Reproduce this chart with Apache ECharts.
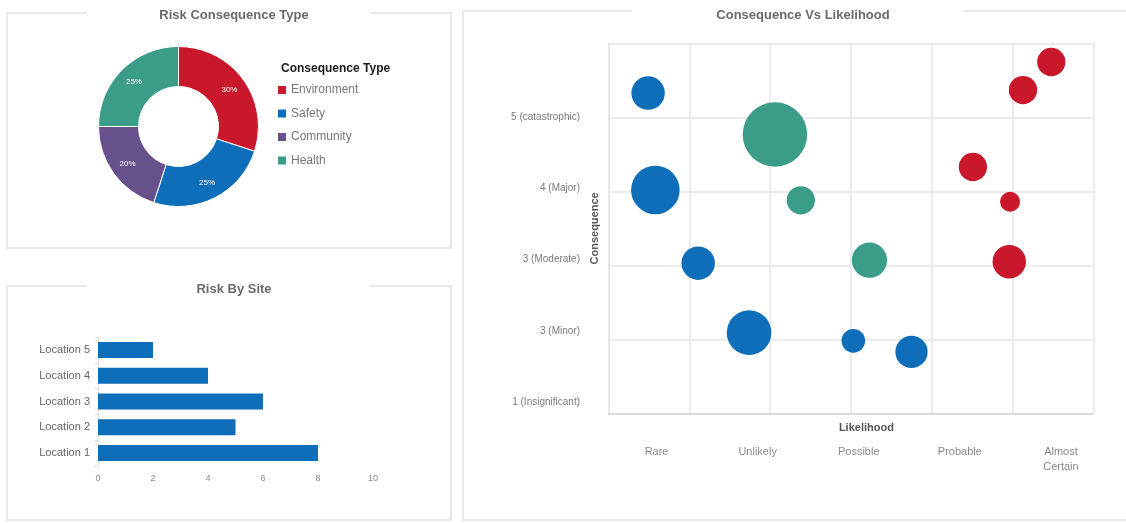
<!DOCTYPE html>
<html>
<head>
<meta charset="utf-8">
<title>Risk Dashboard</title>
<script src="https://cdn.jsdelivr.net/npm/echarts@6/dist/echarts.min.js"></script>
<style>
  html, body { margin: 0; padding: 0; background: #fff; }
  #wrap { position: relative; width: 1126px; height: 523px; overflow: hidden; }
  .panel { position: absolute; border: 2px solid #e9e9e9; box-sizing: border-box; }
  .gap { position: absolute; top: -2px; height: 2px; background: #fff; }
  #chart { position: absolute; left: 0; top: 0; width: 1126px; height: 523px; }
</style>
</head>
<body>
<div id="wrap">
  <!-- panel frames, the title sits in a gap of the top border -->
  <div class="panel" style="left:6px;top:12px;width:446px;height:237px;">
    <div class="gap" style="left:79px;width:283px;"></div>
  </div>
  <div class="panel" style="left:6px;top:285px;width:446px;height:236px;">
    <div class="gap" style="left:79px;width:283px;"></div>
  </div>
  <div class="panel" style="left:462px;top:10px;width:700px;height:511px;">
    <div class="gap" style="left:168px;width:331px;"></div>
  </div>
  <div id="chart"></div>
</div>
<script>
// 颜色
const RED = '#c9182b';
const BLUE = '#0f6eb9';
const GREEN = '#3b9c88';
const PURPLE = '#67518a';

// Risk Consequence Type (donut)
const consequenceTypes = ['Environment', 'Safety', 'Community', 'Health'];
const consequenceShares = [30, 25, 20, 25];
const consequenceColors = [RED, BLUE, PURPLE, GREEN];

// Risk By Site (bars, bottom to top)
const sites = ['Location 1', 'Location 2', 'Location 3', 'Location 4', 'Location 5'];
const siteRisks = [8, 5, 6, 4, 2];

// Consequence Vs Likelihood (bubbles: [likelihood, consequence, weight])
const likelihoodLabels = ['Rare', 'Unlikely', 'Possible', 'Probable', 'Almost\nCertain'];
const consequenceLabels = ['1 (Insignificant)', '3 (Minor)', '3 (Moderate)', '4 (Major)', '5 (catastrophic)'];
const safetyRisks = [
  [0.49, 5.33, 28],
  [0.58, 4.02, 59],
  [1.11, 3.03, 28],
  [1.74, 2.09, 50],
  [3.03, 1.98, 14],
  [3.75, 1.83, 26]
];
const healthRisks = [
  [2.06, 4.77, 104],
  [2.38, 3.88, 20],
  [3.23, 3.07, 31]
];
const environmentRisks = [
  [5.48, 5.75, 20],
  [5.13, 5.37, 20],
  [4.51, 4.33, 20],
  [4.97, 3.86, 10],
  [4.96, 3.05, 28]
];

const FONT = 'Liberation Sans, Arial, sans-serif';
const bubbleSize = d => Math.sqrt(d[2] * 40);

const chart = echarts.init(document.getElementById('chart'), null, { renderer: 'canvas' });

const option = {
  animation: false,
  textStyle: { fontFamily: FONT },
  title: [
    { text: 'Risk Consequence Type', left: 229, top: 4, textAlign: 'center',
      textStyle: { fontSize: 13, fontWeight: 'bold', color: '#6a6a6a' } },
    { text: 'Risk By Site', left: 229, top: 278, textAlign: 'center',
      textStyle: { fontSize: 13, fontWeight: 'bold', color: '#6a6a6a' } },
    { text: 'Consequence Vs Likelihood', left: 798, top: 4, textAlign: 'center',
      textStyle: { fontSize: 13, fontWeight: 'bold', color: '#6a6a6a' } },
    { text: 'Consequence Type', left: 281, top: 63, padding: 0,
      textStyle: { fontSize: 12, fontWeight: 'bold', color: '#1a1a1a' } }
  ],
  legend: {
    orient: 'vertical',
    left: 278,
    top: 84,
    padding: 0,
    itemWidth: 8,
    itemHeight: 8,
    itemGap: 11.5,
    icon: 'rect',
    itemStyle: { borderWidth: 0 },
    textStyle: { fontSize: 12, color: '#777' },
    data: consequenceTypes
  },
  grid: [
    { left: 98, right: 753, top: 337, bottom: 57 },
    { left: 608.5, right: 32.7, top: 43.5, bottom: 109.7 },
    { left: 606, right: 14.5, top: 117, bottom: 120.7 }
  ],
  xAxis: [
    {
      gridIndex: 0, type: 'value', min: 0, max: 10, interval: 2,
      axisLine: { show: false }, axisTick: { show: false }, splitLine: { show: false },
      axisLabel: { fontSize: 9, color: '#8a8a8a', margin: 8 }
    },
    {
      gridIndex: 1, type: 'value', min: 0, max: 6, interval: 1,
      name: 'Likelihood', nameLocation: 'middle', nameGap: 9,
      nameTextStyle: { fontSize: 11, fontWeight: 'bold', color: '#555', padding: [0, 0, 0, 31] },
      axisLine: { show: true, lineStyle: { color: '#d4d4d4', width: 1.5 } },
      axisTick: { show: false },
      axisLabel: { show: false },
      splitLine: { show: true, lineStyle: { color: '#e6e6e6', width: 1.5 } }
    },
    {
      gridIndex: 2, type: 'category', data: likelihoodLabels,
      offset: 34,
      axisLine: { show: false }, axisTick: { show: false }, splitLine: { show: false },
      axisLabel: { fontSize: 11, color: '#8a8a8a', lineHeight: 15, interval: 0 }
    }
  ],
  yAxis: [
    {
      gridIndex: 0, type: 'category', data: sites,
      axisLine: { show: true, lineStyle: { color: '#dcdcdc' } },
      axisTick: { show: true, length: 3, lineStyle: { color: '#dcdcdc' } },
      axisLabel: { fontSize: 11, color: '#666', margin: 8 }
    },
    {
      gridIndex: 1, type: 'value', min: 1, max: 6, interval: 1,
      name: 'Consequence', nameLocation: 'middle', nameGap: 8, nameRotate: 90,
      nameTextStyle: { fontSize: 11, fontWeight: 'bold', color: '#555' },
      axisLine: { show: true, lineStyle: { color: '#e6e6e6', width: 1.5 } },
      axisTick: { show: false },
      axisLabel: { show: false },
      splitLine: { show: true, lineStyle: { color: '#e6e6e6', width: 1.5 } }
    },
    {
      gridIndex: 2, type: 'value', min: 1, max: 5, interval: 1,
      axisLine: { show: false }, axisTick: { show: false }, splitLine: { show: false },
      axisLabel: {
        fontSize: 10, color: '#7a7a7a', margin: 26,
        formatter: v => consequenceLabels[v - 1] || ''
      }
    }
  ],
  series: [
    {
      name: 'Consequence Type',
      type: 'pie',
      center: [178.5, 126.5],
      radius: [40, 80],
      startAngle: 90,
      clockwise: true,
      itemStyle: { borderColor: '#fff', borderWidth: 1 },
      label: { show: true, position: 'inside', formatter: '{d}%', fontSize: 8, color: '#fff' },
      labelLine: { show: false },
      data: consequenceTypes.map((name, i) => ({
        name: name,
        value: consequenceShares[i],
        itemStyle: { color: consequenceColors[i] }
      }))
    },
    {
      name: 'Risk By Site',
      type: 'bar',
      xAxisIndex: 0,
      yAxisIndex: 0,
      barWidth: 16,
      itemStyle: { color: BLUE },
      data: siteRisks
    },
    {
      name: 'Safety', type: 'scatter', xAxisIndex: 1, yAxisIndex: 1,
      symbolSize: bubbleSize, itemStyle: { color: BLUE, opacity: 1 }, data: safetyRisks
    },
    {
      name: 'Health', type: 'scatter', xAxisIndex: 1, yAxisIndex: 1,
      symbolSize: bubbleSize, itemStyle: { color: GREEN, opacity: 1 }, data: healthRisks
    },
    {
      name: 'Environment', type: 'scatter', xAxisIndex: 1, yAxisIndex: 1,
      symbolSize: bubbleSize, itemStyle: { color: RED, opacity: 1 }, data: environmentRisks
    }
  ]
};

chart.setOption(option);
</script>
</body>
</html>
